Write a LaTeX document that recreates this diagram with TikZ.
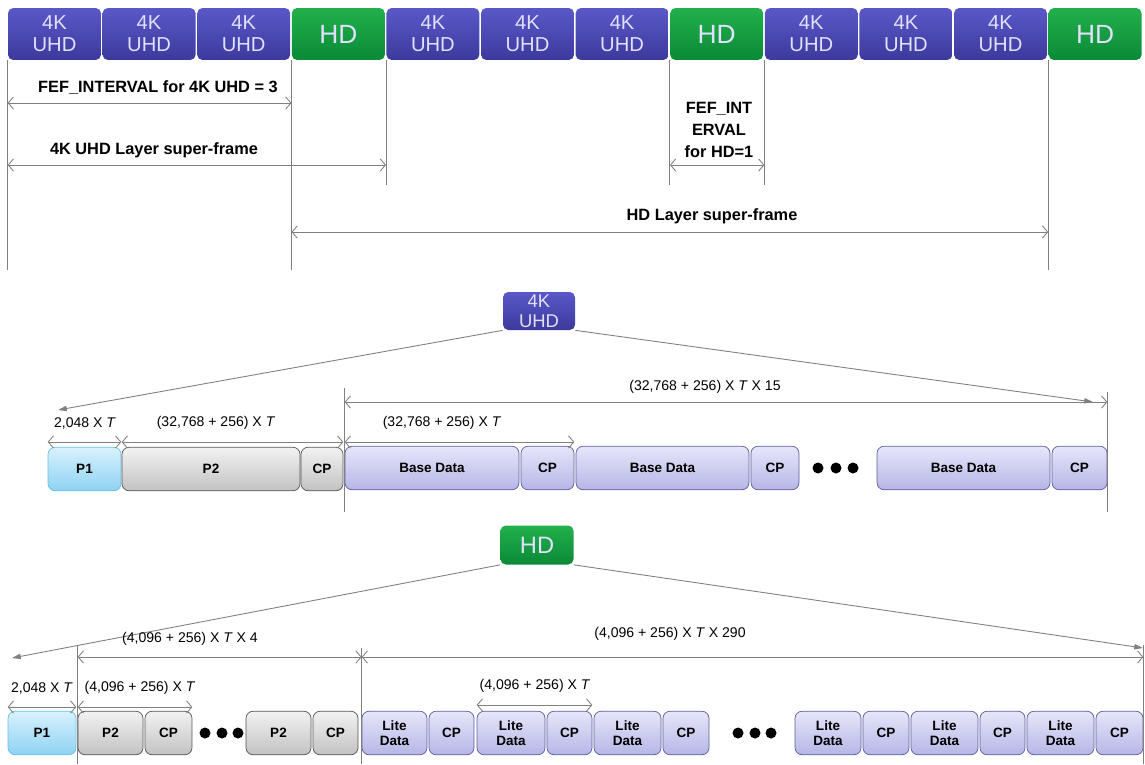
\documentclass[tikz,border=0pt]{standalone}
\usepackage{fontspec}
\setmainfont{Liberation Sans}
\usetikzlibrary{arrows.meta}

\definecolor{uhdtop}{HTML}{5A58C8}
\definecolor{uhdbot}{HTML}{3C3A9C}
\definecolor{hdtop}{HTML}{22B04C}
\definecolor{hdbot}{HTML}{0A8A36}
\definecolor{ptop}{HTML}{D8F2FD}
\definecolor{pbot}{HTML}{8ED2F2}
\definecolor{pedge}{HTML}{6CBFE6}
\definecolor{gtop}{HTML}{F2F2F2}
\definecolor{gbot}{HTML}{C2C2C2}
\definecolor{gedge}{HTML}{555555}
\definecolor{ltop}{HTML}{E6E6FB}
\definecolor{lbot}{HTML}{B6B6E6}
\definecolor{ledge}{HTML}{5C5C9C}
\definecolor{linegray}{HTML}{808080}

\begin{document}
\begin{tikzpicture}[x=0.02cm,y=-0.02cm]
    \tikzset{
        frame/.style={rounded corners=3pt, inner sep=0pt, text=white!88!blue, align=center},
        uhd/.style={frame, top color=uhdtop, bottom color=uhdbot, font=\fontsize{11.5}{12.5}\selectfont},
        hd/.style={frame, top color=hdtop, bottom color=hdbot, font=\fontsize{15}{16}\selectfont},
        blk/.style={draw, rounded corners=4pt, inner sep=0pt, minimum height=0.87cm, align=center,
            font=\bfseries\fontsize{7.7}{8.7}\selectfont},
        pone/.style={blk, draw=pedge, top color=ptop, bottom color=pbot},
        gry/.style={blk, draw=gedge, top color=gtop, bottom color=gbot},
        lav/.style={blk, draw=ledge, top color=ltop, bottom color=lbot},
        dim/.style={draw=linegray, line width=0.5pt,
            {Straight Barb[length=3pt,width=7pt]}-{Straight Barb[length=3pt,width=7pt]}},
        guide/.style={draw=linegray, line width=0.5pt},
        fan/.style={draw=linegray, line width=0.5pt, -{Triangle[length=5pt,width=3pt]}},
        lbl/.style={font=\bfseries\fontsize{9.3}{12.5}\selectfont},
        dimlbl/.style={font=\fontsize{8}{9}\selectfont}
    }

    \useasboundingbox (0,0) rectangle (1145,764);

    % frame sequence
    \foreach \i in {1,2,3,5,6,7,9,10,11}{
        \draw node[uhd, minimum width=1.86cm, minimum height=1.04cm] (t\i) at ({54.5+94.6*(\i-1)},34) {4K\\UHD};
    }
    \foreach \i in {4,8,12}{
        \draw node[hd, minimum width=1.86cm, minimum height=1.04cm] (t\i) at ({54.5+94.6*(\i-1)},34) {HD};
    }

    \foreach \n in {t1,t4,t12}{
        \draw[guide] (\n.south west) -- (\n.south west |- 0,270);
    }
    \foreach \n in {t5,t8,t9}{
        \draw[guide] (\n.south west) -- (\n.south west |- 0,185);
    }

    \draw[dim] (t1.south west |- 0,103) -- (t4.south west |- 0,103);
    \draw[dim] (t1.south west |- 0,165) -- (t5.south west |- 0,165);
    \draw[dim] (t8.south west |- 0,165) -- (t9.south west |- 0,165);
    \draw[dim] (t4.south west |- 0,232) -- (t12.south west |- 0,232);

    \draw node[lbl] (fefuhd) at (158,88) {FEF\_INTERVAL for 4K UHD = 3};
    \draw node[lbl] (sfuhd) at (154,150) {4K UHD Layer super-frame};
    \draw node[lbl, align=center] (fefhd) at (719,130) {FEF\_INT\\ERVAL\\for HD=1};
    \draw node[lbl] (sfhd) at (712,216) {HD Layer super-frame};

    % 4K UHD frame
    \draw node[uhd, minimum width=1.44cm, minimum height=0.76cm, font=\fontsize{10.5}{11.5}\selectfont] (k4) at (539,311) {4K\\UHD};
    \coordinate (k4l) at (58,410);
    \coordinate (k4r) at (1093,402);
    \draw[fan] (k4.south west) -- (k4l);
    \draw[fan] (k4.south east) -- (k4r);

    \draw node[pone, minimum width=1.46cm] (p1a) at (84.5,469) {P1};
    \foreach \n/\a/\b/\t in {p2a/122/300/P2, cpa/301/343/CP}{
        \draw node[gry, minimum width={(\b-\a)*0.02cm}] (\n) at ({(\a+\b)/2},469) {\t};
    }
    \foreach \n/\a/\b/\t in {bd1/345/519/Base Data, cp1/521/574/CP, bd2/576/749/Base Data,
        cp2/751/799/CP, bd3/877/1050/Base Data, cp3/1052/1107/CP}{
        \draw node[lav, minimum width={(\b-\a)*0.02cm}] (\n) at ({(\a+\b)/2},468) {\t};
    }
    \foreach \x in {818,836,853}{
        \fill (\x,468) circle (5.5);
    }

    \draw[guide] (bd1.north west |- 0,388) -- (bd1.north west |- 0,512);
    \draw[guide] (cp3.north east |- 0,392) -- (cp3.north east |- 0,512);
    \draw[dim] (p1a.north west |- 0,442) -- (p1a.north east |- 0,442);
    \draw[dim] (p2a.north west |- 0,442) -- (cpa.north east |- 0,442);
    \draw[dim] (bd1.north west |- 0,442) -- (cp1.north east |- 0,442);
    \draw[dim] (bd1.north west |- 0,402) -- (cp3.north east |- 0,402);

    \draw node[dimlbl] (la1) at (85,423) {2,048 X \textit{T}};
    \draw node[dimlbl] (la2) at (216,423) {(32,768 + 256) X \textit{T}};
    \draw node[dimlbl] (la3) at (442,423) {(32,768 + 256) X \textit{T}};
    \draw node[dimlbl] (la4) at (705,387) {(32,768 + 256) X \textit{T} X 15};

    % HD frame
    \draw node[hd, minimum width=1.46cm, minimum height=0.78cm, font=\fontsize{13.5}{14}\selectfont] (h) at (537,545) {HD};
    \coordinate (hl) at (12,658);
    \coordinate (hr) at (1143,648);
    \draw[fan] (h.south west) -- (hl);
    \draw[fan] (h.south east) -- (hr);

    \draw node[pone, minimum width=1.36cm] (p1b) at (42,733) {P1};
    \foreach \n/\a/\b/\t in {p2b/78/143/P2, cpb/145/192/CP, p2c/246/311/P2, cpc/313/358/CP}{
        \draw node[gry, minimum width={(\b-\a)*0.02cm}] (\n) at ({(\a+\b)/2},733) {\t};
    }
    \foreach \n/\a/\b/\t in {ld1/362/427/Lite\\Data, cl1/429/474/CP, ld2/477/545/Lite\\Data,
        cl2/547/592/CP, ld3/594/661/Lite\\Data, cl3/663/709/CP, ld4/795/861/Lite\\Data,
        cl4/863/909/CP, ld5/911/978/Lite\\Data, cl5/980/1025/CP, ld6/1027/1094/Lite\\Data,
        cl6/1096/1143/CP}{
        \draw node[lav, minimum width={(\b-\a)*0.02cm}] (\n) at ({(\a+\b)/2},733) {\t};
    }
    \foreach \x in {205,222,238,738,755,771}{
        \fill (\x,733) circle (5.5);
    }

    \draw[guide] (p2b.north west |- 0,645) -- (p2b.north west |- 0,764);
    \draw[guide] (ld1.north west |- 0,648) -- (ld1.north west |- 0,764);
    \draw[guide] (cl6.north east |- 0,645) -- (cl6.north east |- 0,764);
    \draw[dim] (p2b.north west |- 0,657) -- (ld1.north west |- 0,657);
    \draw[dim] (ld1.north west |- 0,657) -- (cl6.north east |- 0,657);
    \draw[dim] (p1b.north west |- 0,707) -- (p1b.north east |- 0,707);
    \draw[dim] (p2b.north west |- 0,707) -- (cpb.north east |- 0,707);
    \draw[dim] (ld2.north west |- 0,705) -- (cl2.north east |- 0,705);

    \draw node[dimlbl] (lb1) at (190,639) {(4,096 + 256) X \textit{T} X 4};
    \draw node[dimlbl] (lb2) at (670,634) {(4,096 + 256) X \textit{T} X 290};
    \draw node[dimlbl] (lb3) at (42,688) {2,048 X \textit{T}};
    \draw node[dimlbl] (lb4) at (140,688) {(4,096 + 256) X \textit{T}};
    \draw node[dimlbl] (lb5) at (535,686) {(4,096 + 256) X \textit{T}};
\end{tikzpicture}
\end{document}
